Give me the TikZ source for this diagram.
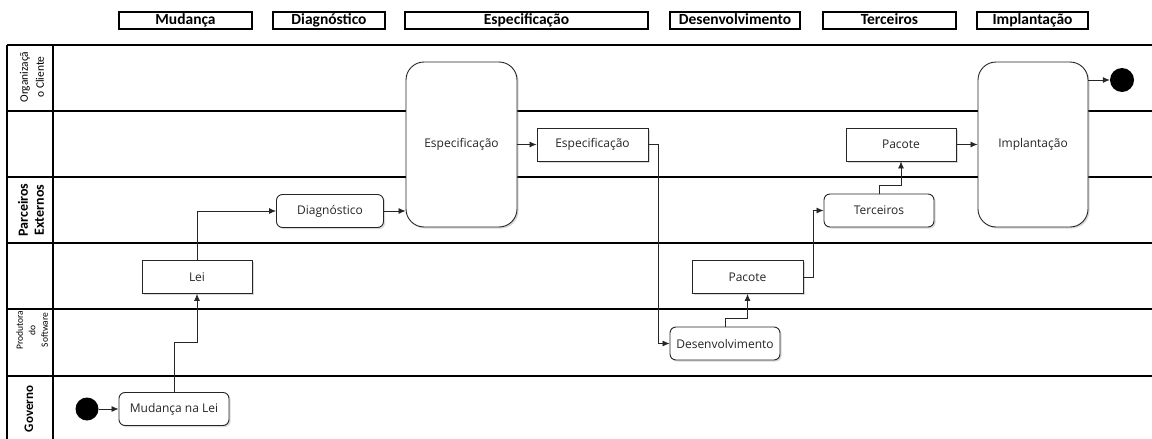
\documentclass[tikz,border=0pt]{standalone}
\usepackage{fontspec}
\usetikzlibrary{arrows.meta,shadows}
\newfontfamily\hdrfont{Carlito}
\newfontfamily\boxfont{Open Sans}

\begin{document}
\begin{tikzpicture}[x=1pt,y=-1pt,
  lane/.style={line width=2.2pt, draw=black},
  hdr/.style={draw=black, line width=2pt, minimum height=17pt, inner sep=0pt,
    text height=10.5pt, text depth=3pt,
    font=\hdrfont\bfseries\fontsize{15.5}{16}\selectfont},
  act/.style={draw=black!85, line width=0.9pt, fill=white, rounded corners=6pt,
    minimum width=110pt, minimum height=33pt, inner sep=0pt,
    font=\boxfont\fontsize{12}{14}\selectfont, text=black!85,
    drop shadow={shadow xshift=1.6pt, shadow yshift=-1.6pt, opacity=0.3}},
  obj/.style={act, sharp corners},
  big/.style={act, rounded corners=18pt, minimum height=165pt},
  flow/.style={draw=black!85, line width=0.8pt, -{Latex[length=7pt,width=6pt]}},
  dot/.style={circle, fill=black, inner sep=0pt, minimum size=23pt},
  lanelabel/.style={rotate=90, align=center, inner sep=0pt},
]
\useasboundingbox (0,0) rectangle (1152,439);

% phase headers
\node[hdr, minimum width=133pt] (hMud)  at (185.5,20.5) {Mudança};
\node[hdr, minimum width=112pt] (hDiag) at (329,20.5)   {Diagnóstico};
\node[hdr, minimum width=243pt] (hEsp)  at (526.5,20.5) {Especificação};
\node[hdr, minimum width=130pt] (hDes)  at (735,20.5)   {Desenvolvimento};
\node[hdr, minimum width=133pt] (hTer)  at (889.5,20.5) {Terceiros};
\node[hdr, minimum width=111pt] (hImp)  at (1032.5,20.5){Implantação};

% swimlanes
\foreach \yy in {45,111,177,243,309,376}
  \draw[lane] (7,\yy) -- (1152,\yy);
\draw[lane] (7,45) -- (7,439);
\draw[lane] (53,45) -- (53,439);

% lane labels
\node[lanelabel, font=\hdrfont\fontsize{11.5}{16}\selectfont] (lOrg) at (32,77) {Organizaçã\\o Cliente};
\node[lanelabel, font=\hdrfont\bfseries\fontsize{14}{16}\selectfont] (lPar) at (31,210) {Parceiros\\Externos};
\node[lanelabel, font=\hdrfont\fontsize{9.5}{12.5}\selectfont] (lProd) at (32,330) {Produtora\\do\\Software};
\node[lanelabel, font=\hdrfont\bfseries\fontsize{13}{14}\selectfont] (lGov) at (29,409) {Governo};

% activities and objects
\node[dot] (start) at (87,409) {};
\node[act] (mudlei) at (174,409) {Mudança na Lei};
\node[obj] (lei) at (197,277) {Lei};
\node[act, minimum width=107pt] (diag) at (330,211) {Diagnóstico};
\node[big, minimum width=111pt] (espec) at (461.5,144.5) {Especificação};
\node[obj, minimum width=111pt] (espec2) at (592.5,144.5) {Especificação};
\node[act] (desenv) at (725,343.5) {Desenvolvimento};
\node[obj, minimum width=111pt] (pac1) at (747.5,277) {Pacote};
\node[act] (terc) at (879,210.5) {Terceiros};
\node[obj] (pac2) at (901,144.5) {Pacote};
\node[big, minimum width=110pt] (impl) at (1033,144.5) {Implantação};
\node[dot, minimum size=24pt] (end) at (1122,80) {};

% control flow
\draw[flow] (start.east) -- (mudlei.west);
\draw[flow] (mudlei.north) -- ++(0,-50) -| (lei.south);
\draw[flow] (lei.north) |- (diag.west);
\draw[flow] (diag.east) -- (diag.east -| espec.west);
\draw[flow] (espec.east) -- (espec2.west);
\draw[flow] (espec2.east) -- ++(10,0) |- (desenv.west);
\draw[flow] (desenv.north) -- ++(0,-8) -| (pac1.south);
\draw[flow] (pac1.east) -- ++(10,0) |- (terc.west);
\draw[flow] (terc.north) -- ++(0,-8) -| (pac2.south);
\draw[flow] (pac2.east) -- (impl.west);
\draw[flow] (impl.east |- end.west) -- (end.west);
\end{tikzpicture}
\end{document}
